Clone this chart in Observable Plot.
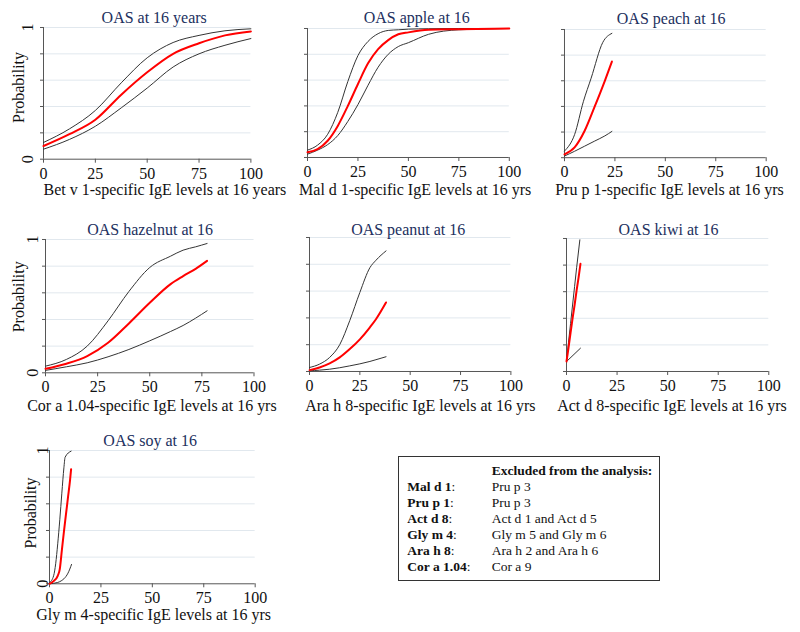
<!DOCTYPE html>
<html><head><meta charset="utf-8">
<script src="https://cdn.jsdelivr.net/npm/d3@7"></script>
<script src="https://cdn.jsdelivr.net/npm/@observablehq/plot@0.6"></script>
<style>
html,body{margin:0;padding:0;background:#fff;}
#chart{position:relative;width:800px;height:632px;overflow:hidden;font-family:"Liberation Serif","Times New Roman",serif;color:#111;}
#chart svg{position:absolute;}
.legend{position:absolute;left:398px;top:456px;width:262px;box-sizing:border-box;border:1px solid #333;padding:5.7px 0 5.7px 8.3px;font-size:13.5px;line-height:16px;color:#111;}
.legend .row{white-space:nowrap;}
.legend .k{display:inline-block;width:84.4px;}
</style></head>
<body><div id="chart"></div>
<script>
// ---------- data ----------
const xTicks = [0, 25, 50, 75, 100];
const yTicks = [0, 0.2, 0.4, 0.6, 0.8, 1];
const yLabelTicks = [0, 1];

// Bet v 1 – OAS at 16 years
const betX   = [0, 12.5, 25, 37.5, 50, 62.5, 75, 87.5, 100];
const betLo  = [0.076, 0.15, 0.25, 0.39, 0.54, 0.70, 0.80, 0.865, 0.916];
const betMid = [0.10, 0.19, 0.30, 0.49, 0.66, 0.80, 0.88, 0.94, 0.97];
const betHi  = [0.127, 0.23, 0.37, 0.58, 0.77, 0.886, 0.94, 0.975, 0.99];

// Mal d 1 – OAS apple
const malX   = [0, 5, 10, 15, 20, 25, 30, 35, 40, 45, 50, 60, 75, 100];
const malLo  = [0.026, 0.057, 0.10, 0.17, 0.28, 0.41, 0.56, 0.70, 0.80, 0.86, 0.89, 0.955, 0.99, 1.0];
const malMid = [0.04, 0.065, 0.13, 0.245, 0.40, 0.57, 0.73, 0.84, 0.91, 0.955, 0.97, 0.99, 0.995, 1.0];
const malHi  = [0.057, 0.096, 0.18, 0.35, 0.59, 0.79, 0.90, 0.96, 0.985, 0.99, 0.995, 0.998, 1.0, 1.0];

// Pru p 1 – OAS peach
const pruX   = [0, 5, 10, 15, 20, 23.5];
const pruLo  = [0.013, 0.05, 0.09, 0.13, 0.17, 0.205];
const pruMid = [0.026, 0.08, 0.21, 0.40, 0.60, 0.75];
const pruHiX = [0, 5, 9.4, 13.2, 19, 23.5];
const pruHi  = [0.052, 0.18, 0.44, 0.62, 0.90, 0.97];

// Cor a 1.04 – OAS hazelnut
const corX   = [0, 10, 20, 30, 40, 50, 60, 66, 72, 77.5];
const corLo  = [0.018, 0.045, 0.075, 0.12, 0.175, 0.24, 0.31, 0.355, 0.41, 0.465];
const corMid = [0.03, 0.068, 0.125, 0.225, 0.37, 0.525, 0.665, 0.725, 0.78, 0.84];
const corHi  = [0.05, 0.10, 0.20, 0.39, 0.61, 0.79, 0.875, 0.92, 0.945, 0.97];

// Ara h 8 – OAS peanut
const araX   = [0, 5, 10, 15, 20, 25, 30, 33, 38];
const araLo  = [0.005, 0.01, 0.017, 0.028, 0.042, 0.057, 0.075, 0.088, 0.11];
const araMid = [0.01, 0.03, 0.06, 0.105, 0.167, 0.24, 0.33, 0.39, 0.515];
const araHi  = [0.03, 0.055, 0.105, 0.20, 0.38, 0.59, 0.775, 0.83, 0.90];

// Act d 8 – OAS kiwi
const actX   = [0, 1, 2, 3, 4, 5, 6, 6.9];
const actMid = [0.075, 0.18, 0.29, 0.40, 0.50, 0.61, 0.71, 0.81];
const actHiX = [0, 1, 2, 3, 4, 5, 6.6];
const actHi  = [0.075, 0.22, 0.36, 0.50, 0.64, 0.78, 0.99];
const actLoX = [0, 6.9];
const actLo  = [0.075, 0.175];

// Gly m 4 – OAS soy
const glyX   = [0, 2, 4, 5, 6, 7, 8, 9, 10, 10.5];
const glyMid = [0, 0.02, 0.06, 0.11, 0.25, 0.39, 0.52, 0.65, 0.78, 0.86];
const glyHiX = [0, 2, 3, 4, 5, 6, 7, 7.6, 10.5];
const glyHi  = [0.008, 0.06, 0.15, 0.30, 0.48, 0.68, 0.87, 0.95, 0.995];
const glyLoX = [0, 4, 6, 8, 9, 10.7];
const glyLo  = [0, 0.01, 0.025, 0.055, 0.08, 0.145];

// Legend
const legendKeys = ["Mal d 1", "Pru p 1", "Act d 8", "Gly m 4", "Ara h 8", "Cor a 1.04"];
const legendExcl = ["Pru p 3", "Pru p 3", "Act d 1 and Act d 5", "Gly m 5 and Gly m 6", "Ara h 2 and Ara h 6", "Cor a 9"];
const legendTitle = "Excluded from the analysis:";

// ---------- drawing ----------
const SERIF = "'Liberation Serif','Times New Roman',serif";
const pts = (xs, ys) => xs.map((x, i) => ({x, y: ys[i]}));
const chart = document.getElementById("chart");

function panel(p) {
  const mL = 48, mR = 40, mT = 30, mB = 50;
  const w = p.x1 - p.x0, h = p.yb - p.yt;
  const cx = (p.x0 + p.x1) / 2;
  const marks = [
    Plot.gridY(yTicks.slice(1), {stroke: "#e1e8ee", strokeOpacity: 1}),
    Plot.axisX({ticks: xTicks, tickSize: 4, tickPadding: 4, stroke: "#555", label: null, fontSize: 16}),
    Plot.axisY({ticks: yTicks, tickSize: 3, tickFormat: () => "", stroke: "#555", label: null}),
    Plot.ruleX([0], {stroke: "#555"}),
    Plot.ruleY([0], {stroke: "#555"}),
    Plot.line(pts(p.loX || p.x, p.lo), {x: "x", y: "y", stroke: "#333", strokeWidth: 1, curve: p.curve || "monotone-x"}),
    Plot.line(pts(p.hiX || p.x, p.hi), {x: "x", y: "y", stroke: "#333", strokeWidth: 1, curve: p.curve || "monotone-x"}),
    Plot.line(pts(p.x, p.mid), {x: "x", y: "y", stroke: "#ff0000", strokeWidth: 2, curve: p.curve || "monotone-x"}),
    Plot.text([p.title], {text: d => d, frameAnchor: "top", textAnchor: "middle", dx: p.tcx - cx, dy: p.tcy - p.yt, lineAnchor: "middle", fill: "#22305e", fontSize: 16}),
    Plot.text([p.xlabel], {text: d => d, frameAnchor: "bottom-left", textAnchor: "start", dx: p.lx - p.x0, dy: p.lcy - p.yb, lineAnchor: "middle", fill: "#111", fontSize: 16})
  ];
  if (p.ylab) {
    marks.push(
      Plot.text(yLabelTicks, {y: d => d, text: d => String(d), frameAnchor: "left", textAnchor: "middle", rotate: -90, dx: p.ylab.tx - p.x0, lineAnchor: "middle", fill: "#111", fontSize: 16}),
      Plot.text(["Probability"], {text: d => d, frameAnchor: "left", textAnchor: "middle", rotate: -90, dx: p.ylab.px - p.x0, dy: p.ylab.py - (p.yt + p.yb) / 2, lineAnchor: "middle", fill: "#111", fontSize: 16})
    );
  }
  const svg = Plot.plot({
    width: w + mL + mR, height: h + mT + mB,
    marginLeft: mL, marginRight: mR, marginTop: mT, marginBottom: mB,
    x: {domain: [0, 100]}, y: {domain: [0, 1]},
    style: {fontFamily: SERIF, fontSize: "16px", background: "transparent", overflow: "visible", color: "#111"},
    marks
  });
  svg.style.position = "absolute";
  svg.style.left = (p.x0 - mL) + "px";
  svg.style.top = (p.yt - mT) + "px";
  svg.style.maxWidth = "none";
  chart.appendChild(svg);
}

panel({x0: 43.3, x1: 250.7, yt: 27, yb: 158.7, title: "OAS at 16 years", tcx: 154, tcy: 17.5,
  xlabel: "Bet v 1-specific IgE levels at 16 years", lx: 43.3, lcy: 189,
  x: betX, lo: betLo, mid: betMid, hi: betHi, ylab: {px: 18.5, py: 87, tx: 27.5}});
panel({x0: 306.7, x1: 508.5, yt: 28, yb: 157, title: "OAS apple at 16", tcx: 416, tcy: 17.5,
  xlabel: "Mal d 1-specific IgE levels at 16 yrs", lx: 298.3, lcy: 189,
  x: malX, lo: malLo, mid: malMid, hi: malHi});
panel({x0: 564.3, x1: 766, yt: 28.5, yb: 156.7, title: "OAS peach at 16", tcx: 671, tcy: 17.5,
  xlabel: "Pru p 1-specific IgE levels at 16 yrs", lx: 555, lcy: 189,
  x: pruX, lo: pruLo, mid: pruMid, hiX: pruHiX, hi: pruHi});
panel({x0: 45, x1: 253.5, yt: 238.7, yb: 372, title: "OAS hazelnut at 16", tcx: 149.6, tcy: 229,
  xlabel: "Cor a 1.04-specific IgE levels at 16 yrs", lx: 26.7, lcy: 405.5,
  x: corX, lo: corLo, mid: corMid, hi: corHi, ylab: {px: 18.8, py: 296, tx: 32.8}});
panel({x0: 309.3, x1: 510.7, yt: 236.7, yb: 370.7, title: "OAS peanut at 16", tcx: 408, tcy: 229,
  xlabel: "Ara h 8-specific IgE levels at 16 yrs", lx: 305, lcy: 405.5,
  x: araX, lo: araLo, mid: araMid, hi: araHi});
panel({x0: 566, x1: 768.3, yt: 237.7, yb: 370.7, title: "OAS kiwi at 16", tcx: 668, tcy: 229,
  xlabel: "Act d 8-specific IgE levels at 16 yrs", lx: 556.7, lcy: 405.5,
  x: actX, mid: actMid, hiX: actHiX, hi: actHi, loX: actLoX, lo: actLo, curve: "linear"});
panel({x0: 49.3, x1: 255, yt: 450, yb: 583.3, title: "OAS soy at 16", tcx: 150, tcy: 440.5,
  xlabel: "Gly m 4-specific IgE levels at 16 yrs", lx: 36, lcy: 614,
  x: glyX, mid: glyMid, hiX: glyHiX, hi: glyHi, loX: glyLoX, lo: glyLo, ylab: {px: 30.8, py: 512.5, tx: 43}});

// legend box
const lg = document.createElement("div");
lg.className = "legend";
const hdr = document.createElement("div");
hdr.className = "row";
hdr.innerHTML = `<span class="k"></span><b>${legendTitle}</b>`;
lg.appendChild(hdr);
legendKeys.forEach((k, i) => {
  const r = document.createElement("div");
  r.className = "row";
  r.innerHTML = `<span class="k"><b>${k}</b>:</span>${legendExcl[i]}`;
  lg.appendChild(r);
});
chart.appendChild(lg);
</script></body></html>
